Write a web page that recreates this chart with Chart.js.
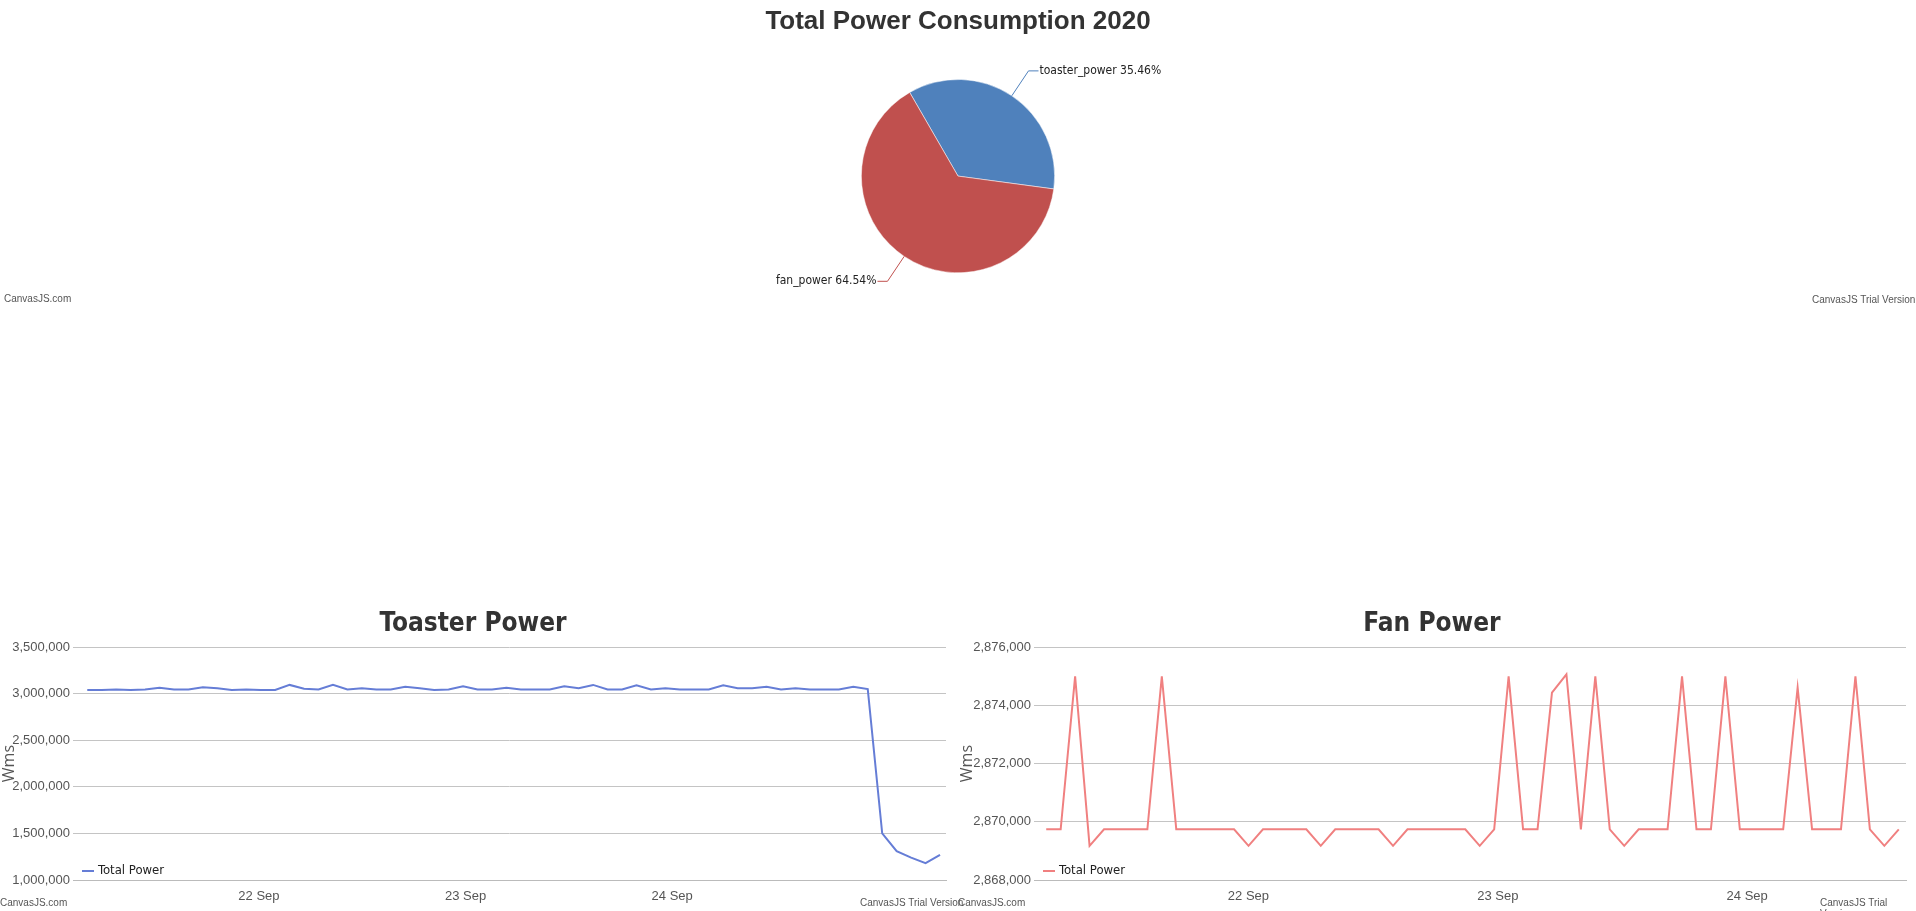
<!DOCTYPE html>
<html>
<head>
<meta charset="utf-8">
<script src="https://cdn.jsdelivr.net/npm/chart.js@4/dist/chart.umd.min.js"></script>
<style>
  body { margin: 0; background: #fff; width: 1916px; height: 911px; overflow: hidden; position: relative; font-family: "DejaVu Sans Condensed", sans-serif; }
  .box { position: absolute; }
  .credit { position: absolute; font-size: 10px; color: #555; font-family: "Liberation Sans Narrow", sans-serif; }
</style>
</head>
<body>
<div class="box" style="left:0;top:0;width:1916px;height:310px"><canvas id="pieChart"></canvas></div>
<div class="box" style="left:0;top:600px;width:958px;height:311px"><canvas id="toasterChart"></canvas></div>
<div class="box" style="left:958px;top:600px;width:958px;height:311px"><canvas id="fanChart"></canvas></div>
<span class="credit" style="left:4px;top:293px">CanvasJS.com</span>
<span class="credit" style="left:1812px;top:294px">CanvasJS Trial Version</span>
<span class="credit" style="left:0;top:897px">CanvasJS.com</span>
<span class="credit" style="left:860px;top:897px">CanvasJS Trial Version</span>
<span class="credit" style="left:958px;top:897px">CanvasJS.com</span>
<span class="credit" style="left:1820px;top:897px">CanvasJS Trial Version</span>
<script>
// pie data
var pieLabels = ["toaster_power", "fan_power"];
var pieShares = [35.46, 64.54];

// toaster series (day of month, sampled regularly)
var toasterStart = 21.169;
var toasterStep = 0.06995;
var toasterWms = [3040000, 3040000, 3045000, 3040000, 3045000, 3065000, 3045000, 3045000, 3070000, 3060000,
  3040000, 3045000, 3040000, 3040000, 3095000, 3055000, 3045000, 3095000, 3045000, 3060000,
  3045000, 3045000, 3075000, 3060000, 3040000, 3045000, 3080000, 3045000, 3045000, 3065000,
  3045000, 3045000, 3045000, 3080000, 3060000, 3095000, 3045000, 3045000, 3090000, 3045000,
  3060000, 3045000, 3045000, 3045000, 3090000, 3060000, 3060000, 3075000, 3045000, 3060000,
  3045000, 3045000, 3045000, 3075000, 3050000, 1500000, 1310000, 1240000, 1180000, 1270000];

// fan series
var fanStart = 21.189;
var fanStep = 0.05795;
var fanWms = [2869740, 2869740, 2875000, 2869175, 2869740, 2869740, 2869740, 2869740, 2875000, 2869740,
  2869740, 2869740, 2869740, 2869740, 2869175, 2869740, 2869740, 2869740, 2869740, 2869175,
  2869740, 2869740, 2869740, 2869740, 2869175, 2869740, 2869740, 2869740, 2869740, 2869740,
  2869175, 2869740, 2875000, 2869740, 2869740, 2874440, 2875065, 2869740, 2875000, 2869740,
  2869175, 2869740, 2869740, 2869740, 2875000, 2869740, 2869740, 2875000, 2869740, 2869740,
  2869740, 2869740, 2874610, 2869740, 2869740, 2869740, 2875000, 2869740, 2869175, 2869740];

function toPoints(start, step, values) {
    return values.map(function (v, i) { return { x: start + i * step, y: v }; });
}

// leader-line labels like the original pie
var pieLabelPlugin = {
    id: 'pieLabels',
    afterDraw: function (chart) {
        var ctx = chart.ctx;
        var meta = chart.getDatasetMeta(0);
        ctx.save();
        ctx.font = '12px "DejaVu Sans Condensed", sans-serif';
        ctx.textBaseline = 'middle';
        meta.data.forEach(function (arc, i) {
            var mid = (arc.startAngle + arc.endAngle) / 2;
            var r = arc.outerRadius;
            var x0 = arc.x + Math.cos(mid) * r, y0 = arc.y + Math.sin(mid) * r;
            var x1 = arc.x + Math.cos(mid) * (r + 30), y1 = arc.y + Math.sin(mid) * (r + 30);
            var right = Math.cos(mid) >= 0;
            var x2 = x1 + (right ? 10 : -10);
            ctx.strokeStyle = chart.data.datasets[0].backgroundColor[i];
            ctx.lineWidth = 1;
            ctx.beginPath(); ctx.moveTo(x0, y0); ctx.lineTo(x1, y1); ctx.lineTo(x2, y1); ctx.stroke();
            ctx.fillStyle = '#222';
            ctx.textAlign = right ? 'left' : 'right';
            ctx.fillText(chart.data.labels[i] + ' ' + pieShares[i].toFixed(2) + '%', x2 + (right ? 1 : -1), y1);
        });
        ctx.restore();
    }
};

new Chart(document.getElementById('pieChart'), {
    type: 'pie',
    data: {
        labels: pieLabels,
        datasets: [{ data: pieShares, backgroundColor: ['#4F81BC', '#C0504E'], borderColor: '#fff', borderWidth: 0.5 }]
    },
    options: {
        maintainAspectRatio: false, animation: false,
        rotation: -30,
        layout: { padding: { top: 0, bottom: 37 } },
        plugins: {
            legend: { display: false }, tooltip: { enabled: false },
            title: { display: true, text: 'Total Power Consumption 2020', color: '#333',
                font: { family: '"Liberation Sans Narrow", sans-serif', size: 26, weight: 'bold' },
                padding: { top: 6, bottom: 42 } }
        }
    },
    plugins: [pieLabelPlugin]
});

var legendPlugin = {
    id: 'bottomLegend',
    afterDraw: function (chart) {
        var ctx = chart.ctx, a = chart.chartArea;
        var color = chart.data.datasets[0].borderColor;
        ctx.save();
        ctx.strokeStyle = color; ctx.lineWidth = 2;
        ctx.beginPath(); ctx.moveTo(a.left + 9, a.bottom - 9); ctx.lineTo(a.left + 21, a.bottom - 9); ctx.stroke();
        ctx.fillStyle = '#222'; ctx.font = '13px "DejaVu Sans Condensed", sans-serif';
        ctx.textBaseline = 'middle';
        ctx.fillText(chart.data.datasets[0].label, a.left + 25, a.bottom - 9);
        ctx.restore();
    }
};

function lineChart(id, title, points, color, ymin, ymax, ystep, xmin, xmax, yWidth, padRight) {
    return new Chart(document.getElementById(id), {
        type: 'line',
        data: { datasets: [{ label: 'Total Power', data: points, borderColor: color, borderWidth: 2, pointRadius: 0, tension: 0 }] },
        options: {
            maintainAspectRatio: false, animation: false,
            layout: { padding: { right: padRight, bottom: 0 } },
            plugins: {
                legend: { display: false }, tooltip: { enabled: false },
                title: { display: true, text: title, color: '#333',
                    font: { family: '"DejaVu Sans Condensed", sans-serif', size: 26, weight: '600' },
                    padding: { top: 9, bottom: 7 } }
            },
            scales: {
                x: {
                    type: 'linear', min: xmin, max: xmax,
                    afterFit: function (s) { s.height = 31; },
                    ticks: { stepSize: 1, color: '#555', font: { family: '"Liberation Sans Narrow", sans-serif', size: 13 },
                        callback: function (v) { return Number.isInteger(v) ? v + ' Sep' : ''; } },
                    grid: { display: false, drawTicks: true, tickLength: 6 },
                    border: { color: '#bbb' }
                },
                y: {
                    min: ymin, max: ymax,
                    afterFit: function (s) { s.width = yWidth; },
                    ticks: { stepSize: ystep, color: '#555', font: { family: '"Liberation Sans Narrow", sans-serif', size: 13 },
                        callback: function (v) { return v.toLocaleString('en-US'); } },
                    title: { display: true, text: 'Wms', color: '#555', font: { family: '"Open Sans", sans-serif', size: 16 }, padding: 0 },
                    grid: { color: '#c4c4c4', drawTicks: false },
                    border: { display: false }
                }
            }
        },
        plugins: [legendPlugin]
    });
}

lineChart('toasterChart', 'Toaster Power', toPoints(toasterStart, toasterStep, toasterWms), 'rgb(101,125,214)',
    1000000, 3500000, 500000, 21.10, 25.325, 73, 12);
lineChart('fanChart', 'Fan Power', toPoints(fanStart, fanStep, fanWms), 'rgb(240,128,128)',
    2868000, 2876000, 2000, 21.14, 24.637, 76, 10);
</script>
</body>
</html>
